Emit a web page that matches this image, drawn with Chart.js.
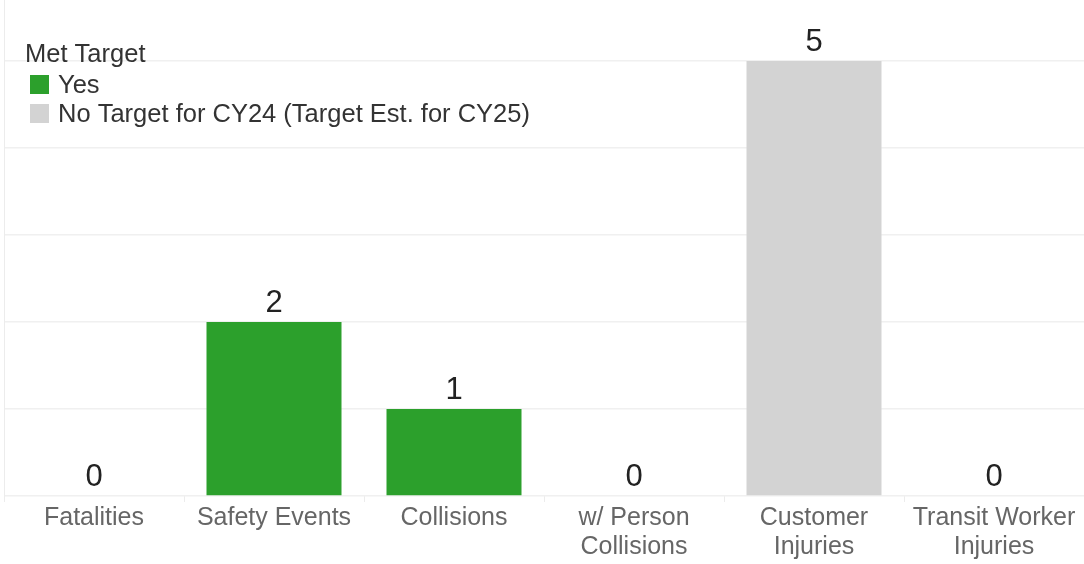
<!DOCTYPE html>
<html>
    <head>
        <title>Met Target</title>
        <meta charset="UTF-8">
        <script src="https://cdn.jsdelivr.net/npm/chart.js@4/dist/chart.umd.min.js"></script>
        <style>
            html, body { margin: 0; padding: 0; background: #fff; }
            #wrap { width: 1084px; height: 564px; position: relative; }
        </style>
    </head>
    <body>
        <div id="wrap"><canvas id="myChart"></canvas></div>
        <script>
            var categories = ['Fatalities', 'Safety Events', 'Collisions', ['w/ Person', 'Collisions'], ['Customer', 'Injuries'], ['Transit Worker', 'Injuries']];
            var yesValues = [0, 2, 1, 0, null, 0];
            var noTargetValues = [null, null, null, null, 5, null];
            var yTicks = [0, 1, 2, 3, 4, 5];

            var FONT = "'Liberation Sans', Arial, sans-serif";

            // value labels above each bar
            var valueLabels = {
                id: 'valueLabels',
                afterDatasetsDraw: function (chart) {
                    var ctx = chart.ctx;
                    ctx.save();
                    ctx.font = '31px ' + FONT;
                    ctx.fillStyle = '#222';
                    ctx.textAlign = 'center';
                    ctx.textBaseline = 'alphabetic';
                    chart.data.datasets.forEach(function (ds, i) {
                        var meta = chart.getDatasetMeta(i);
                        ds.data.forEach(function (v, j) {
                            if (v === null) return;
                            var el = meta.data[j];
                            ctx.fillText(String(v), el.x, el.y - 10);
                        });
                    });
                    ctx.restore();
                }
            };

            // legend drawn over the top left of the plot
            var legendBox = {
                id: 'legendBox',
                afterDraw: function (chart) {
                    var ctx = chart.ctx;
                    ctx.save();
                    ctx.font = '25.5px ' + FONT;
                    ctx.fillStyle = '#333';
                    ctx.textBaseline = 'alphabetic';
                    ctx.fillText('Met Target', 25, 62);
                    chart.data.datasets.forEach(function (ds, i) {
                        var y = 75 + i * 29;
                        ctx.fillStyle = ds.backgroundColor;
                        ctx.fillRect(30, y, 19, 19);
                        ctx.fillStyle = '#333';
                        ctx.fillText(ds.label, 58, y + 18);
                    });
                    ctx.restore();
                }
            };

            var ctx = document.getElementById('myChart').getContext('2d');
            var chart = new Chart(ctx, {
                type: 'bar',
                data: {
                    labels: categories,
                    datasets: [
                        {
                            label: 'Yes',
                            backgroundColor: '#2ca02c',
                            data: yesValues
                        },
                        {
                            label: 'No Target for CY24 (Target Est. for CY25)',
                            backgroundColor: '#d3d3d3',
                            data: noTargetValues
                        }
                    ]
                },
                options: {
                    responsive: true,
                    maintainAspectRatio: false,
                    animation: false,
                    skipNull: true,
                    barPercentage: 0.75,
                    categoryPercentage: 1,
                    layout: { padding: { left: 4, top: 0, right: 0, bottom: 0 } },
                    plugins: {
                        legend: { display: false },
                        tooltip: { enabled: false }
                    },
                    scales: {
                        x: {
                            grid: {
                                drawOnChartArea: false,
                                drawTicks: true,
                                tickLength: 6,
                                color: '#ececec'
                            },
                            border: { display: false },
                            ticks: {
                                color: '#666',
                                padding: 2,
                                maxRotation: 0,
                                autoSkip: false,
                                font: { family: FONT, size: 25, lineHeight: 1.16 }
                            }
                        },
                        y: {
                            min: 0,
                            max: 5.7,
                            afterBuildTicks: function (axis) {
                                axis.ticks = yTicks.map(function (v) { return { value: v }; });
                            },
                            grid: {
                                drawTicks: false,
                                color: '#f0f0f0',
                                lineWidth: 1.5
                            },
                            border: { display: true, color: '#ececec' },
                            ticks: { display: false }
                        }
                    }
                },
                plugins: [valueLabels, legendBox]
            });
        </script>
    </body>
</html>
